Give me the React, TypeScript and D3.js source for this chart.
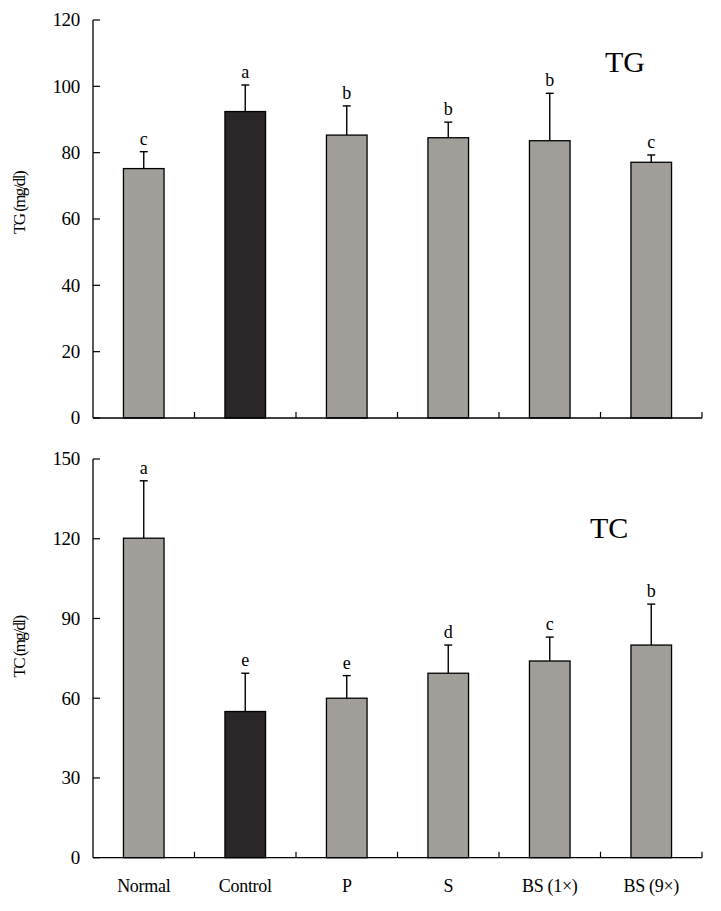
import React from "react";
import * as d3 from "d3";

const categories = ["Normal", "Control", "P", "S", "BS (1×)", "BS (9×)"];

const tgMeans = [75.2, 92.4, 85.3, 84.5, 83.6, 77.1];
const tgErrors = [5.1, 8.0, 8.8, 4.7, 14.3, 2.2];
const tgLetters = ["c", "a", "b", "b", "b", "c"];
const tgTicks = [0, 20, 40, 60, 80, 100, 120];

const tcMeans = [120.2, 55.0, 60.0, 69.4, 74.0, 80.0];
const tcErrors = [21.6, 14.4, 8.5, 10.6, 9.0, 15.4];
const tcLetters = ["a", "e", "e", "d", "c", "b"];
const tcTicks = [0, 30, 60, 90, 120, 150];

const FONT = "Liberation Serif, Times New Roman, serif";
const GRAY = "#a19e99";
const DARK = "#2b2728";

type PanelProps = {
  means: number[];
  errors: number[];
  letters: string[];
  ticks: number[];
  top: number;
  bottom: number;
  yLabel: string;
  yLabelCenter: number;
  title: string;
  titleX: number;
  titleY: number;
  showCategories: boolean;
};

const LEFT = 93;
const RIGHT = 702;

function Panel(p: PanelProps) {
  const x = d3
    .scaleBand<string>()
    .domain(categories)
    .range([LEFT, RIGHT])
    .paddingInner(0.6)
    .paddingOuter(0.3);
  const maxV = p.ticks[p.ticks.length - 1];
  const y = d3.scaleLinear().domain([0, maxV]).range([p.bottom, p.top]);
  const bw = x.bandwidth();
  const step = x.step();

  return (
    <g>
      {categories.map((c, i) => {
        const x0 = x(c)!;
        const cx = x0 + bw / 2;
        const yTop = y(p.means[i]);
        const yErr = y(p.means[i] + p.errors[i]);
        return (
          <g key={c}>
            <line x1={cx} x2={cx} y1={yTop} y2={yErr} stroke="#000" strokeWidth={1.4} />
            <line x1={cx - 4} x2={cx + 4} y1={yErr} y2={yErr} stroke="#000" strokeWidth={1.4} />
            <rect
              x={x0}
              y={yTop}
              width={bw}
              height={p.bottom - yTop}
              fill={i === 1 ? DARK : GRAY}
              stroke="#000"
              strokeWidth={1.3}
            />
            <text
              x={cx}
              y={yErr - 7}
              textAnchor="middle"
              fontFamily={FONT}
              fontSize={18}
              fill="#000"
            >
              {p.letters[i]}
            </text>
            {p.showCategories && (
              <text
                x={cx}
                y={892}
                textAnchor="middle"
                fontFamily={FONT}
                fontSize={18}
                letterSpacing={-0.3}
                fill="#000"
              >
                {c}
              </text>
            )}
          </g>
        );
      })}
      <line x1={LEFT} x2={LEFT} y1={p.top} y2={p.bottom} stroke="#000" strokeWidth={1.3} />
      <line x1={LEFT} x2={RIGHT} y1={p.bottom} y2={p.bottom} stroke="#000" strokeWidth={1.3} />
      {categories.map((c, i) => {
        const bx = x(c)! + bw / 2 + step / 2;
        return (
          <line key={"xt" + i} x1={bx} x2={bx} y1={p.bottom} y2={p.bottom - 6} stroke="#000" strokeWidth={1.2} />
        );
      })}
      {p.ticks.map((t) => (
        <g key={"yt" + t}>
          <line x1={LEFT} x2={LEFT + 7} y1={y(t)} y2={y(t)} stroke="#000" strokeWidth={1.2} />
          <text
            x={80}
            y={y(t)}
            dy="0.34em"
            textAnchor="end"
            fontFamily={FONT}
            fontSize={19}
            letterSpacing={-0.3}
            fill="#000"
          >
            {t}
          </text>
        </g>
      ))}
      <text
        transform={`translate(25, ${p.yLabelCenter}) rotate(-90)`}
        textAnchor="middle"
        fontFamily={FONT}
        fontSize={17}
        letterSpacing={-1.6}
        fill="#000"
      >
        {p.yLabel}
      </text>
      <text x={p.titleX} y={p.titleY} fontFamily={FONT} fontSize={30} fill="#000">
        {p.title}
      </text>
    </g>
  );
}

export default function App() {
  return (
    <svg
      width={721}
      height={911}
      viewBox="0 0 721 911"
      style={{ position: "absolute", left: 0, top: 0, background: "#fff" }}
    >
      <rect x={0} y={0} width={721} height={911} fill="#fff" />
      <Panel
        means={tgMeans}
        errors={tgErrors}
        letters={tgLetters}
        ticks={tgTicks}
        top={20}
        bottom={418}
        yLabel="TG (mg/dl)"
        yLabelCenter={203}
        title="TG"
        titleX={605}
        titleY={72}
        showCategories={false}
      />
      <Panel
        means={tcMeans}
        errors={tcErrors}
        letters={tcLetters}
        ticks={tcTicks}
        top={459}
        bottom={857.7}
        yLabel="TC (mg/dl)"
        yLabelCenter={647}
        title="TC"
        titleX={590}
        titleY={538}
        showCategories={true}
      />
    </svg>
  );
}
